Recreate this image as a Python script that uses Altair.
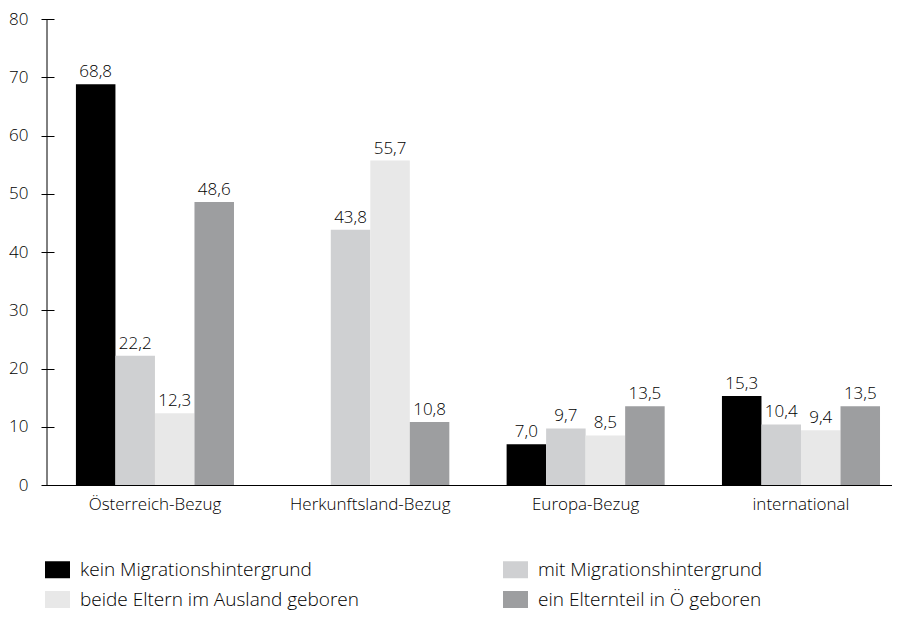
import altair as alt
import pandas as pd

categories = ["Österreich-Bezug", "Herkunftsland-Bezug", "Europa-Bezug", "international"]
series = ["kein Migrationshintergrund", "mit Migrationshintergrund",
          "beide Eltern im Ausland geboren", "ein Elternteil in Ö geboren"]
kein = [68.8, None, 7.0, 15.3]
mit = [22.2, 43.8, 9.7, 10.4]
beide = [12.3, 55.7, 8.5, 9.4]
ein = [48.6, 10.8, 13.5, 13.5]
colors = ["#000000", "#cfd0d2", "#e8e8e8", "#9d9ea0"]
y_ticks = [0, 10, 20, 30, 40, 50, 60, 70, 80]

rows = []
for s, vals in zip(series, [kein, mit, beide, ein]):
    for c, v in zip(categories, vals):
        if v is not None:
            rows.append({"Kategorie": c, "Gruppe": s, "Wert": v,
                         "Label": f"{v:.1f}".replace(".", ",")})
df = pd.DataFrame(rows)

FONT = "Open Sans"
W, H = 845, 466

x_scale = alt.Scale(paddingInner=0.266, paddingOuter=0.095, align=0.707)
x_enc = alt.X("Kategorie:N", sort=categories, scale=x_scale,
              axis=alt.Axis(title=None, ticks=False, domainColor="#000000",
                            labelFontSize=17, labelFont=FONT, labelColor="#000000",
                            labelFontWeight=300,
                            labelPadding=11, labelAngle=0))
xo_enc = alt.XOffset("Gruppe:N", sort=series, scale=alt.Scale(paddingInner=0, paddingOuter=0))
y_scale = alt.Scale(domain=[0, 80], nice=False)

bars = alt.Chart(df).mark_bar().encode(
    x=x_enc,
    xOffset=xo_enc,
    y=alt.Y("Wert:Q", scale=y_scale,
            axis=alt.Axis(title=None, values=y_ticks, grid=False, domain=False,
                          offset=-7, tickColor="#000000", tickSize=13,
                          labelFontSize=17, labelFont=FONT, labelFontWeight=300,
                          labelColor="#000000", labelPadding=13)),
    color=alt.Color("Gruppe:N", sort=series,
                    scale=alt.Scale(domain=series, range=colors),
                    legend=alt.Legend(title=None, orient="none", legendX=-2, legendY=538,
                                      columns=2, direction="horizontal",
                                      columnPadding=144, rowPadding=7,
                                      symbolType="M-1,-0.68L1,-0.68L1,0.68L-1,0.68Z",
                                      symbolSize=625, symbolStrokeWidth=0, symbolOpacity=1,
                                      labelFontSize=19, labelFont=FONT, labelFontWeight=300,
                                      labelColor="#000000",
                                      labelOffset=10, labelLimit=0)),
)

labels = alt.Chart(df).mark_text(baseline="bottom", dy=-3, fontSize=17, font=FONT,
                                 fontWeight=300, color="#000000").encode(
    x=alt.X("Kategorie:N", sort=categories, scale=x_scale),
    xOffset=xo_enc,
    y=alt.Y("Wert:Q", scale=y_scale),
    text="Label:N",
)

y_line = alt.Chart(pd.DataFrame({"lo": [y_ticks[0]], "hi": [y_ticks[-1]]})).mark_rule(
    color="#000000", strokeWidth=1
).encode(
    x=alt.value(0),
    y=alt.Y("lo:Q", scale=y_scale),
    y2="hi:Q",
)

chart = alt.layer(bars, labels, y_line).properties(
    width=W, height=H, padding={"top": 2, "left": 0, "right": 0, "bottom": 0}
).configure(font=FONT).configure_view(stroke=None)

chart.save("out.html", embed_options={"renderer": "svg", "actions": False})
